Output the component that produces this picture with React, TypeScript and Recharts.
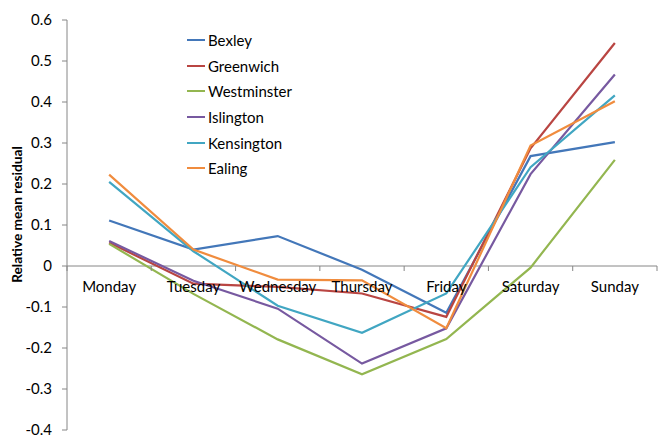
import React from "react"
import { LineChart, Line, XAxis, YAxis, Legend, ReferenceLine } from "recharts"

const days = ["Monday", "Tuesday", "Wednesday", "Thursday", "Friday", "Saturday", "Sunday"]

const bexley = [0.111, 0.04, 0.073, -0.009, -0.114, 0.268, 0.302]
const greenwich = [0.057, -0.043, -0.051, -0.067, -0.124, 0.287, 0.544]
const westminster = [0.054, -0.068, -0.179, -0.264, -0.178, -0.004, 0.259]
const islington = [0.061, -0.036, -0.104, -0.238, -0.152, 0.224, 0.467]
const kensington = [0.205, 0.036, -0.097, -0.163, -0.067, 0.241, 0.416]
const ealing = [0.223, 0.04, -0.033, -0.035, -0.152, 0.294, 0.402]

const yTicks = [-0.4, -0.3, -0.2, -0.1, 0, 0.1, 0.2, 0.3, 0.4, 0.5, 0.6]

const series = [
  { name: "Bexley", values: bexley, color: "#4377B9" },
  { name: "Greenwich", values: greenwich, color: "#B94542" },
  { name: "Westminster", values: westminster, color: "#93B650" },
  { name: "Islington", values: islington, color: "#7759A0" },
  { name: "Kensington", values: kensington, color: "#41A6C2" },
  { name: "Ealing", values: ealing, color: "#F08C3E" },
]

const data = days.map((day, i) => {
  const row: Record<string, string | number> = { day }
  series.forEach((s) => {
    row[s.name] = s.values[i]
  })
  return row
})

const W = 659
const H = 435
const margin = { top: 20, right: 2, bottom: 4, left: 0 }
const yAxisWidth = 67
const xAxisHeight = 1
const yMin = -0.4
const yMax = 0.6
const axisColor = "#868686"

const plotW = W - margin.left - margin.right - yAxisWidth
const plotH = H - margin.top - margin.bottom - xAxisHeight
const band = plotW / days.length
// pixel row of the zero line, where the category labels hang
const zeroY = margin.top + (plotH * yMax) / (yMax - yMin)

const DayTick = (props: any) => {
  const { x, payload, index } = props
  const left = x - band / 2
  return (
    <g>
      <line x1={left} y1={zeroY} x2={left} y2={zeroY + 5} stroke={axisColor} />
      {index === days.length - 1 && (
        <line x1={left + band} y1={zeroY} x2={left + band} y2={zeroY + 5} stroke={axisColor} />
      )}
      <text x={x} y={zeroY + 26} textAnchor="middle" fill="#000" fontSize={15}>
        {payload.value}
      </text>
    </g>
  )
}

// legend keeps the series order rather than sorting by name
const LegendBox = () => (
  <div>
    {series.map((s) => (
      <div key={s.name} style={{ display: "flex", alignItems: "center", height: 25.7 }}>
        <span style={{ display: "inline-block", width: 18, height: 2, background: s.color, marginRight: 3 }} />
        <span style={{ fontSize: 15, color: "#000" }}>{s.name}</span>
      </div>
    ))}
  </div>
)

const AxisTitle = () => {
  const cx = 16.5
  const cy = 214.5
  return (
    <text
      x={cx}
      y={cy}
      transform={`rotate(-90, ${cx}, ${cy})`}
      textAnchor="middle"
      dominantBaseline="central"
      fontSize={13.7}
      fontWeight="bold"
      fill="#000"
    >
      Relative mean residual
    </text>
  )
}

export default function App() {
  return (
    <div style={{ position: "absolute", left: 0, top: 0, fontFamily: "Lato", background: "#fff" }}>
      <LineChart width={W} height={H} data={data} margin={margin}>
        <XAxis
          dataKey="day"
          height={xAxisHeight}
          padding={{ left: band / 2, right: band / 2 }}
          axisLine={false}
          tickLine={false}
          tick={<DayTick />}
          interval={0}
        />
        <YAxis
          width={yAxisWidth}
          domain={[yMin, yMax]}
          ticks={yTicks}
          interval={0}
          tickFormatter={(v: number) => (v === 0 ? "0" : v.toFixed(1))}
          axisLine={{ stroke: axisColor }}
          tickLine={{ stroke: axisColor }}
          tickSize={5}
          tickMargin={10}
          tick={{ fill: "#000", fontSize: 15 }}
          label={{ content: <AxisTitle /> }}
        />
        <ReferenceLine y={0} stroke={axisColor} />
        <Legend
          layout="vertical"
          align="center"
          verticalAlign="middle"
          content={<LegendBox />}
          wrapperStyle={{ left: 187, top: 27, width: 140, height: 160 }}
        />
        {series.map((s) => (
          <Line
            key={s.name}
            type="linear"
            dataKey={s.name}
            stroke={s.color}
            strokeWidth={2.2}
            dot={false}
            isAnimationActive={false}
          />
        ))}
      </LineChart>
    </div>
  )
}
